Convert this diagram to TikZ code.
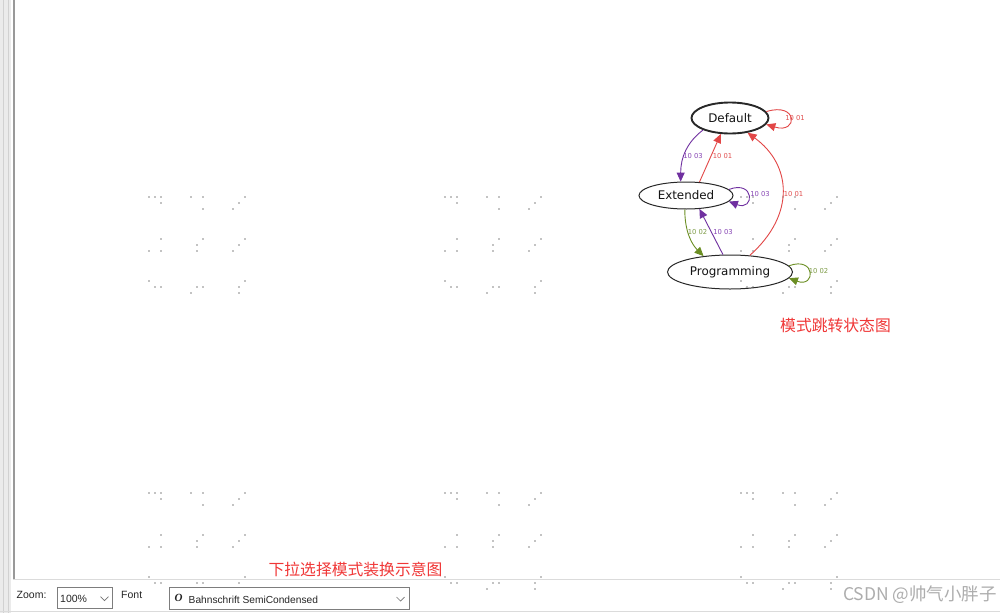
\documentclass[tikz,border=0pt]{standalone}
\usepackage{fontspec}
\setmainfont{DejaVu Sans}
\newfontfamily\cjk{Noto Sans CJK SC}
\newfontfamily\uifont{Liberation Sans}
\newfontfamily\serifit{Liberation Serif}
\usetikzlibrary{shapes.geometric,arrows.meta}
\definecolor{ered}{RGB}{226,70,70}
\definecolor{epurple}{RGB}{112,48,160}
\definecolor{egreen}{RGB}{107,142,35}
\definecolor{lred}{RGB}{225,80,80}
\definecolor{lpurple}{RGB}{135,70,180}
\definecolor{lgreen}{RGB}{125,155,70}
\definecolor{nred}{RGB}{240,55,55}
\definecolor{dotc}{RGB}{195,195,195}
\definecolor{nodeline}{RGB}{40,40,40}
\definecolor{boxline}{RGB}{125,125,125}
\newcommand\dotgrp[2]{%
  \foreach \a/\b in {0/0,1/0,2/0,2/1,7/0,9/0,9/2,16/0,15/1,14/2,
                     2/7,9/7,16/7,8/8,15/8,0/9,2/9,8/9,14/9,
                     0/14,16/14,1/15,2/15,8/15,9/15,15/15,7/16,15/16}{%
    \fill[dotc] ({#1+6*\a-0.8},{#2+6*\b-0.8}) rectangle ++(1.6,1.6);}}
\begin{document}
\begin{tikzpicture}[x=1pt,y=-1pt,
  state/.style={ellipse,draw=nodeline,line width=1pt,inner sep=0pt,
    font=\fontsize{11.9}{13}\selectfont,text=black!92},
  edge/.style={line width=0.9pt,-{Triangle[length=9pt,width=8pt]}},
  lbl/.style={inner sep=0pt,font=\fontsize{6.8}{8}\selectfont},
  cn/.style={inner sep=0pt,font=\cjk\fontsize{15.8}{17}\selectfont,text=nred},
  ui/.style={inner sep=0pt,font=\uifont\fontsize{10.5}{12}\selectfont,text=black!85},
  combo/.style={draw=boxline,fill=white,line width=0.8pt,inner sep=0pt,anchor=north west}]
\useasboundingbox (0,0) rectangle (1000,613);
\fill[white] (0,0) rectangle (1000,613);
% left panel border
\fill[black!8] (0,0) rectangle (11,613);
\draw[black!18,line width=1pt] (3,0) -- (3,613);
\draw[black!18,line width=1pt] (8.5,0) -- (8.5,613);
\draw[black!40,line width=2pt] (14,0) -- (14,579);
\draw[black!14,line width=1pt] (13,579.5) -- (1000,579.5);
\draw[black!14,line width=1pt] (0,611.5) -- (1000,611.5);
% dot grid
\dotgrp{149}{196.7}
\dotgrp{445}{196.7}
\dotgrp{741}{196.7}
\dotgrp{149}{492.7}
\dotgrp{445}{492.7}
\dotgrp{741}{492.7}
% states
\node[state,line width=1.9pt,minimum width=77pt,minimum height=31pt] (D) at (730,118) {Default};
\node[state,minimum width=94pt,minimum height=27pt] (E) at (686,195.5) {Extended};
\node[state,minimum width=125pt,minimum height=34pt] (P) at (730,272) {Programming};
% transitions
\draw[edge,ered] (D.10) .. controls +(32,-10) and +(32,10) .. (D.-10);
\draw[edge,epurple] (D.204) .. controls +(-16,12) and +(0,-24) .. (E.111);
\draw[edge,ered] (E.45) -- (D.240);
\draw[edge,epurple] (E.8) .. controls +(26,-10) and +(26,10) .. (E.-8);
\draw[edge,egreen] (E.265) .. controls +(0,22) and +(-12,-12) .. (P.149);
\draw[edge,epurple] (P.112) -- (E.-45);
\draw[edge,ered] (P.40) .. controls +(46,-41) and +(44,32) .. (D.-40);
\draw[edge,egreen] (P.6) .. controls +(27,-10) and +(27,10) .. (P.-6);
% labels
\node[lbl,text=lred] (l1) at (795,118) {10 01};
\node[lbl,text=lpurple] (l2) at (693,156) {10 03};
\node[lbl,text=lred] (l3) at (722.5,156) {10 01};
\node[lbl,text=lpurple] (l4) at (760,194.5) {10 03};
\node[lbl,text=lred] (l5) at (793.5,194.5) {10 01};
\node[lbl,text=lgreen] (l6) at (697.5,232.3) {10 02};
\node[lbl,text=lpurple] (l7) at (723,232.3) {10 03};
\node[lbl,text=lgreen] (l8) at (818.5,271) {10 02};
% annotations
\node[cn] (t1) at (835.5,325) {模式跳转状态图};
\node[cn] (t2) at (355.5,569) {下拉选择模式装换示意图};
% toolbar
\node[ui,anchor=west] (zl) at (16.5,595) {Zoom:};
\node[combo,minimum width=55pt,minimum height=21pt] (zb) at (57,587) {};
\node[ui,anchor=west] (zt) at (60,598.5) {100\%};
\draw[black!55,line width=0.7pt] (100.5,596.5) -- (104.5,600.5) -- (108.5,596.5);
\node[ui,anchor=west] (fl) at (121,595) {Font};
\node[combo,minimum width=240pt,minimum height=22pt] (fb) at (169,587) {};
\node[inner sep=0pt,font=\serifit\bfseries\itshape\fontsize{11}{12}\selectfont,text=black!85] (fi) at (178.5,597.5) {O};
\node[ui,anchor=west,font=\uifont\fontsize{10.2}{12}\selectfont] (ft) at (188.5,599.5) {Bahnschrift SemiCondensed};
\draw[black!55,line width=0.7pt] (396.5,597) -- (400.5,601) -- (404.5,597);
% watermark
\node[inner sep=0pt,anchor=east,font=\cjk\fontsize{17.5}{19}\selectfont,text=black!32] (wm) at (997,595) {CSDN @帅气小胖子};
\end{tikzpicture}
\end{document}
